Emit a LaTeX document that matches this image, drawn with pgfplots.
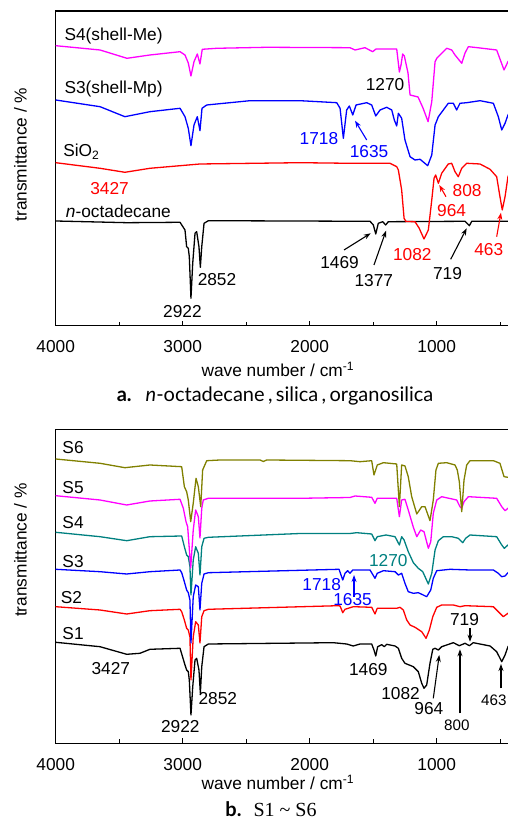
\documentclass[border=0pt]{standalone}
\usepackage{fontspec}
\setmainfont{Liberation Sans}
\newfontfamily\capfont{Lato}
\newfontfamily\capserif{Liberation Serif}
\usepackage{pgfplots}
\pgfplotsset{compat=1.18}
\usetikzlibrary{arrows.meta}
\definecolor{olivec}{RGB}{128,128,0}
\definecolor{tealc}{RGB}{0,128,128}
\definecolor{magc}{RGB}{255,0,255}
\newcommand{\fs}{\fontsize{17.3}{20}\selectfont}
\newcommand{\fss}{\fontsize{15.2}{18}\selectfont}
\tikzset{
  ann/.style={font=\fs, inner sep=0pt},
  anns/.style={font=\fss, inner sep=0pt},
  arr/.style={-{Stealth[length=7pt,width=5pt]}, line width=1.1pt},
}
\pgfplotsset{
  specax/.style={
    scale only axis, width=454.3pt, xmin=423, xmax=4000, x dir=reverse,
    ymin=0, ytick=\empty,
    xtick={1000,2000,3000,4000}, minor xtick={500,1500,2500,3500},
    xtick pos=bottom, tick align=inside, major tick length=5pt, minor tick length=4pt,
    axis line style={line width=1.2pt},
    tick style={black, line width=1pt},
    tick label style={font=\fs},
    /pgf/number format/assume math mode=true,
    /pgf/number format/set thousands separator={},
    xticklabel style={anchor=base, yshift=-27pt},
    clip=false,
    ylabel={transmittance / \%},
    xlabel={wave number / cm\textsuperscript{-1}},
    every axis plot/.append style={line width=1.3pt, line join=round},
  },
}
\begin{document}
\begin{tikzpicture}
\useasboundingbox (0,0) rectangle (508pt,821pt);
% ---------------- panel a ----------------
\begin{axis}[specax, at={(55.7pt,495.3pt)}, anchor=south west, height=314.7pt, ymax=314.7,
  every axis x label/.style={at={(axis description cs:0.489,0)}, anchor=base, yshift=-50.6pt, font=\fs},
  every axis y label/.style={at={(axis description cs:-0.0638,0.5434)}, rotate=90, anchor=base, font=\fs}]
% n-octadecane
\addplot[black] coordinates {(4000,104.7) (3439,103) (3021,103.4) (2982,95.7) (2969,79) (2956,77.4) (2948,69) (2935,27.4) (2921,62.7) (2903,92.4) (2890,94) (2872,79) (2861,58.4) (2850,79) (2832,102.4) (2798,105) (1525,104.4) (1499,100.7) (1480,91.7) (1460,102.4) (1425,104) (1402,100.7) (1381,104) (777,104.4) (743,100) (724,104.4) (423,104.4)};
% SiO2
\addplot[red] coordinates {(4000,163) (3651,157.4) (3455,153.4) (3258,157.4) (2864,161.7) (2076,163) (1683,162.4) (1368,162.4) (1315,159) (1302,155.7) (1276,135.7) (1257,107.4) (1242,104.2) (1171,104) (1139,97.7) (1100,86.7) (1066,95.7) (1039,125.7) (1021,147.4) (1008,150.7) (987,142.4) (961,152.4) (909,161.7) (882,162.4) (856,154) (830,149) (803,157.4) (764,162.4) (659,161.7) (580,156.4) (528,149) (502,129) (484,115.7) (462,129) (439,149) (423,153)};
% S3 (shell-Mp)
\addplot[blue] coordinates {(4000,225.7) (3651,219) (3455,209) (3258,214) (3021,217.4) (2982,209) (2956,197.4) (2935,180) (2911,200.7) (2885,209) (2864,195) (2848,217.4) (2811,220.7) (2470,225) (2076,225) (1787,223) (1761,217.4) (1735,187.4) (1709,215.7) (1688,219.7) (1661,210.7) (1635,220.7) (1551,223) (1512,220.7) (1480,209.7) (1446,215.7) (1394,218.4) (1354,215.7) (1334,205.7) (1315,199.7) (1302,212.4) (1276,207.4) (1250,185.7) (1210,169) (1171,165.7) (1131,166.4) (1071,160) (1039,170.7) (1013,200.7) (987,209) (948,215.7) (909,222.4) (869,222.4) (843,215.7) (817,222.4) (764,223) (659,225) (554,222.4) (515,209) (488,195.7) (462,202.4) (439,210.7) (423,214)};
% S4 (shell-Me)
\addplot[magc] coordinates {(4000,280) (3651,275.7) (3439,267.4) (3258,270.7) (3021,274) (2982,270.7) (2956,262.7) (2935,249.7) (2911,264) (2885,271.7) (2864,261.7) (2846,276.4) (2732,277.4) (2339,278.4) (1683,278) (1643,275.7) (1565,278) (1504,274) (1478,276.7) (1315,276.7) (1294,253.7) (1281,260.7) (1268,271.7) (1255,269.7) (1226,252.7) (1210,230.7) (1147,228.7) (1108,217.7) (1068,204) (1039,224) (1013,264) (998,267.7) (921,277.4) (882,275.7) (856,270.7) (803,262.4) (777,272.7) (751,279) (659,277.7) (528,275.7) (470,255.7) (439,264) (423,266)};
% labels
\node[ann, anchor=base west] at (axis cs:3932,285) {S4(shell-Me)};
\node[ann, anchor=base west] at (axis cs:3932,232.4) {S3(shell-Mp)};
\node[ann, anchor=base west] at (axis cs:3942,169) {SiO\textsubscript{2}};
\node[ann, anchor=base west] at (axis cs:3921,108.4) {\textit{n}-octadecane};
\node[ann] at (axis cs:1407,240.7) {1270};
\node[ann, blue] at (axis cs:1927,187.4) {1718};
\node[ann, blue] at (axis cs:1533,174) {1635};
\draw[arr, blue] (axis cs:1551,185.7) -- (axis cs:1643,205);
\node[ann, red] at (axis cs:3576,137.4) {3427};
\node[ann, red] at (axis cs:761,135) {808};
\node[ann, red] at (axis cs:883,115) {964};
\draw[arr, red] (axis cs:927,129) -- (axis cs:980,140.7);
\node[ann, red] at (axis cs:1192,71.4) {1082};
\node[ann, red] at (axis cs:590,76.4) {463};
\draw[arr, red] (axis cs:528,89) -- (axis cs:494,113);
\node[ann] at (axis cs:1765,63.4) {1469};
\draw[arr] (axis cs:1730,75.7) -- (axis cs:1520,92.4);
\node[ann] at (axis cs:1495,45) {1377};
\draw[arr] (axis cs:1494,60.7) -- (axis cs:1399,95);
\node[ann] at (axis cs:915,52.4) {719};
\draw[arr] (axis cs:890,66.4) -- (axis cs:764,97.4);
\node[ann] at (axis cs:2730,46.4) {2852};
\node[ann] at (axis cs:3002,14) {2922};
\end{axis}
% ---------------- panel b ----------------
\begin{axis}[specax, at={(55.7pt,77.7pt)}, anchor=south west, height=314pt, ymax=314,
  every axis x label/.style={at={(axis description cs:0.489,0)}, anchor=base, yshift=-46.7pt, font=\fs},
  every axis y label/.style={at={(axis description cs:-0.0638,0.6156)}, rotate=90, anchor=base, font=\fs}]
% S1
\addplot[black] coordinates {(4000,101) (3651,96.6) (3441,89) (3337,90) (3258,94) (3021,95) (2982,78.3) (2969,73.3) (2956,71.6) (2948,63.3) (2935,28.3) (2921,56.6) (2903,83.3) (2890,85) (2872,73.3) (2861,50) (2850,76.6) (2832,96.6) (2798,99.3) (1814,100.6) (1709,99.3) (1657,97.3) (1604,99.3) (1512,99.3) (1494,93.3) (1480,87.3) (1465,96.6) (1433,98.6) (1413,96.6) (1394,99) (1328,97.3) (1302,95) (1276,85) (1250,80) (1184,76.6) (1145,71.6) (1118,60) (1100,55) (1079,58.3) (1053,80) (1031,94) (1013,95) (987,93.3) (961,96.6) (869,100.6) (822,97.6) (777,100) (743,97.6) (712,100.6) (580,97.3) (528,91.6) (488,81.6) (462,88.3) (439,96.6) (423,99)};
% S2
\addplot[red] coordinates {(4000,136.6) (3651,133.3) (3441,129.3) (3258,132.6) (3021,134) (3008,131.6) (2987,123.3) (2969,115) (2956,113.3) (2943,106.3) (2935,63.3) (2917,106.6) (2898,121.6) (2877,118.3) (2864,100.3) (2850,126.6) (2832,132.6) (2798,134) (1775,137.6) (1761,137.3) (1740,130.6) (1722,134) (1657,136.6) (1512,136) (1486,129.3) (1468,135) (1315,135) (1289,136) (1263,133.3) (1236,123.3) (1210,118.3) (1171,116) (1118,111.6) (1084,105) (1058,113.3) (1031,126.6) (1000,136) (961,138.3) (869,138.3) (817,136.6) (777,137.6) (554,136.6) (515,131.6) (476,126.6) (439,130) (423,132)};
% S3
\addplot[blue] coordinates {(4000,174) (3651,171.6) (3441,169.3) (3258,171.6) (3021,173.3) (3008,170.6) (2987,161.6) (2969,153.3) (2956,150.6) (2943,143.3) (2935,100.3) (2917,146.6) (2898,158.3) (2877,156.6) (2864,133.3) (2850,160) (2832,169.3) (2798,170.6) (1769,174) (1740,163.3) (1722,170) (1701,172.6) (1683,170) (1661,173.3) (1525,173.3) (1486,165) (1468,170) (1420,172.6) (1328,171.6) (1302,168.3) (1276,170) (1250,160) (1224,151.6) (1184,150) (1145,150.6) (1106,148.3) (1079,146.6) (1047,153.3) (1027,165) (1000,172.6) (895,174) (738,173.3) (554,173.3) (515,170) (488,166.6) (462,167.3) (439,170.6) (423,172)};
% S4
\addplot[tealc] coordinates {(4000,211) (3651,206.6) (3441,202.6) (3258,206.6) (3008,207.3) (2987,196.6) (2969,188.3) (2956,186.6) (2943,176.6) (2935,148.3) (2917,183.3) (2898,196.6) (2877,190) (2864,168.3) (2850,196.6) (2832,205) (2798,206) (2076,209.8) (1683,209.8) (1630,210.6) (1512,209.3) (1486,202.6) (1468,206.6) (1399,208.3) (1328,206.6) (1294,198.3) (1276,206.6) (1257,203.3) (1224,191.6) (1184,180.6) (1145,175) (1110,171.6) (1066,159.3) (1039,170) (1013,193.3) (987,202.6) (948,206.6) (882,206.6) (830,205) (795,200.6) (772,205) (738,208.3) (528,206.6) (488,198.3) (468,195) (439,198.3) (423,200)};
% S5
\addplot[magc] coordinates {(4000,247.6) (3651,243.3) (3441,238.3) (3258,242.3) (3021,244) (2995,235) (2974,221.6) (2961,216.6) (2937,175.3) (2917,213.3) (2898,233.3) (2877,226.6) (2864,205.3) (2850,235) (2838,243.3) (2798,245) (2076,245) (1683,245.8) (1643,247.3) (1512,246) (1486,240) (1468,245) (1315,245) (1294,226.6) (1276,243.3) (1250,244) (1224,233.3) (1184,216) (1157,206.6) (1126,213.3) (1100,211.6) (1066,195) (1047,201.6) (1027,230) (1000,243.3) (961,246.6) (843,243.3) (817,236.6) (803,235) (785,241.6) (751,246.6) (528,245) (488,236.6) (462,232.6) (439,235) (423,237)};
% S6
\addplot[olivec] coordinates {(4000,284.3) (3651,280) (3455,275.6) (3258,278.3) (3008,276.6) (2987,256.6) (2969,251.6) (2956,243.3) (2937,221.6) (2917,240) (2895,265) (2877,256.6) (2858,236.6) (2843,273.3) (2811,282.6) (2706,283.3) (2391,283.3) (2365,281.8) (2339,283.3) (1683,282.6) (1604,281.6) (1512,282.6) (1494,268.3) (1468,278.3) (1420,280.6) (1315,279.3) (1294,236.6) (1276,278.3) (1250,277.3) (1224,266.6) (1197,246.6) (1157,229.3) (1118,236.6) (1092,236.6) (1053,222.6) (1027,243.3) (1006,273.3) (987,280) (921,280.6) (856,278.3) (838,273.3) (822,261.6) (803,231.6) (785,263.3) (764,278.3) (738,282.6) (554,282.6) (502,280) (470,266.6) (439,266) (423,266)};
% labels
\node[ann, anchor=base west] at (axis cs:3948,289.3) {S6};
\node[ann, anchor=base west] at (axis cs:3948,250) {S5};
\node[ann, anchor=base west] at (axis cs:3948,214.3) {S4};
\node[ann, anchor=base west] at (axis cs:3948,176) {S3};
\node[ann, anchor=base west] at (axis cs:3961,140) {S2};
\node[ann, anchor=base west] at (axis cs:3948,104) {S1};
\node[ann, tealc] at (axis cs:1381,182.6) {1270};
\node[ann, blue] at (axis cs:1906,158.3) {1718};
\node[ann, blue] at (axis cs:1663,143.3) {1635};
\draw[arr, blue] (axis cs:1651,146.6) -- (axis cs:1651,168.3);
\node[ann] at (axis cs:781,123.3) {719};
\draw[arr] (axis cs:738,115) -- (axis cs:738,101.6);
\node[ann] at (axis cs:3566,75) {3427};
\node[ann] at (axis cs:1539,74) {1469};
\node[ann] at (axis cs:1285,50) {1082};
\node[ann] at (axis cs:1062,35) {964};
\draw[arr] (axis cs:1027,45) -- (axis cs:980,88.3);
\node[anns] at (axis cs:842,18.3) {800};
\draw[arr] (axis cs:817,30) -- (axis cs:817,94);
\node[anns] at (axis cs:550,43.3) {463};
\draw[arr] (axis cs:494,55) -- (axis cs:494,79.3);
\node[ann] at (axis cs:2724,44.3) {2852};
\node[ann] at (axis cs:3019,16.6) {2922};
\end{axis}
% captions
\node[anchor=base, font=\capfont\fontsize{20}{24}\selectfont] at (275pt,419.7pt)
  {\textbf{a.}\hspace{0.7em}\textit{n}-octadecane\,,\,silica\,,\,organosilica};
\node[anchor=base, font=\fontsize{20}{24}\selectfont] at (271pt,4.3pt)
  {{\capfont\bfseries b.}\hspace{0.6em}{\capserif S1 {\char"7E} S6}};
\end{tikzpicture}
\end{document}
